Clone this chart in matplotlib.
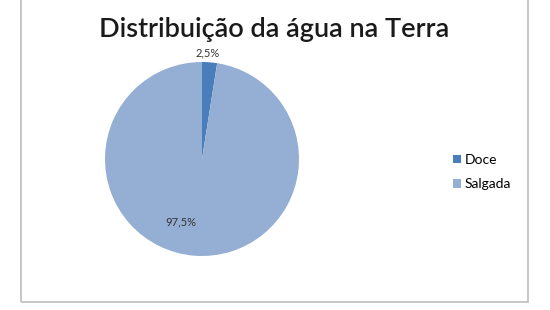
import numpy as np
import matplotlib.pyplot as plt
from matplotlib.patches import Rectangle, Patch

# Dados do gráfico
categorias = ['Doce', 'Salgada']
valores = [2.5, 97.5]
rotulos = ['2,5%', '97,5%']
cores = ['#4A7EBB', '#94AED4']

plt.rcParams['font.family'] = ['Lato', 'DejaVu Sans']

fig = plt.figure(figsize=(5.5, 3.1), dpi=100)
fig.patch.set_facecolor('white')

# moldura da área do gráfico
fig.patches.append(Rectangle((21 / 550, 1 - 302 / 310), (528 - 21) / 550, 1.2,
                             transform=fig.transFigure, fill=False,
                             edgecolor='#BEBEBE', linewidth=1.2))

fig.text(274 / 550, 1 - 29 / 310, 'Distribuição da água na Terra',
         ha='center', va='center', fontsize=19.5, fontweight='semibold', color='#1a1a1a')

# pizza: centro (202,159), raio ~97 px
r = 97
ax = fig.add_axes([(202 - r) / 550, 1 - (159 + r) / 310, 2 * r / 550, 2 * r / 310])
wedges, _ = ax.pie(valores, colors=cores, startangle=90, counterclock=False,
                   wedgeprops=dict(linewidth=0))
ax.set_aspect('auto')
ax.set_xlim(-1, 1)
ax.set_ylim(-1, 1)

ax.text(0.06, 1.09, rotulos[0], ha='center', va='center', fontsize=8, color='#333333')
ax.text(-0.22, -0.65, rotulos[1], ha='center', va='center', fontsize=8, color='#333333')

handles = [Patch(facecolor=c, edgecolor='none') for c in cores]
fig.legend(handles, categorias, loc='center left', bbox_to_anchor=(441 / 550, 1 - 172 / 310),
           frameon=False, fontsize=10, handlelength=0.55, handleheight=0.55,
           handletextpad=0.25, labelspacing=0.9)

fig.savefig('out.png', dpi=100, facecolor='white')
